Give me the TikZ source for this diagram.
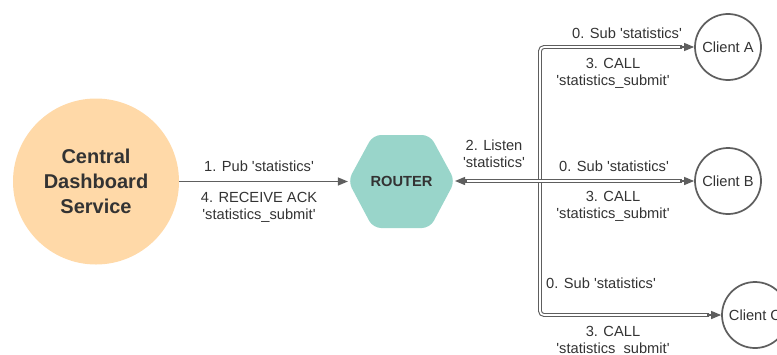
\documentclass[tikz,border=0pt]{standalone}
\usepackage{fontspec}
\setmainfont{Liberation Sans}
\usetikzlibrary{arrows.meta,calc}
\definecolor{orangefill}{HTML}{FFD9A8}
\definecolor{tealfill}{HTML}{99D5CA}
\definecolor{linegray}{HTML}{5E5E5E}
\definecolor{textgray}{HTML}{333333}
\newcommand{\sq}{\textquotesingle}
\begin{document}
\begin{tikzpicture}[x=0.75pt,y=-0.75pt,
  lbl/.style={font=\fontsize{11pt}{13pt}\selectfont, text=textgray, align=center, inner sep=0pt},
  client/.style={circle, draw=linegray, line width=1.3pt, minimum size=49.5pt, inner sep=0pt, font=\fontsize{11pt}{13pt}\selectfont, text=textgray},
  dbl/.style={draw=linegray, line width=0.8pt, double=white, double distance=1.3pt, rounded corners=3pt},
  tip/.style={draw=linegray, line width=0.9pt, -{Triangle[length=7.5pt,width=6pt]}, shorten <=0pt}
]
\useasboundingbox (0,0) rectangle (777,354);
\clip (0,0) rectangle (777,354);

% Central node
\node[circle, fill=orangefill, minimum size=124.5pt, inner sep=0pt, align=center,
      font=\fontsize{15pt}{18.5pt}\selectfont\bfseries, text=textgray] (central) at (96,181.5) {Central\\Dashboard\\Service};

% Router hexagon
\fill[tealfill, rounded corners=6pt] (348,181) -- (373,135) -- (430,135) -- (455,181) -- (430,228) -- (373,228) -- cycle;
\node[font=\fontsize{11pt}{13pt}\selectfont\bfseries, text=textgray, minimum width=80pt, minimum height=69pt, inner sep=0pt] (router) at (401.5,181.5) {ROUTER};

% Clients
\node[client] (ca) at (728,47) {Client A};
\node[client] (cb) at (728,181) {Client B};
\node[client] (cc) at (755,315) {Client C};

% junction coordinates
\coordinate (jm) at (540,181);
\coordinate (jt) at (540,47);
\coordinate (jb) at (540,315);
\coordinate (ra) at (455,181);

% central -> router
\draw[tip] (central.east) -- (router.west);

% double connectors
\draw[dbl] ($(ca.west)+(-12,0)$) -- (jt) -- (jb) -- ($(cc.west)+(-12,0)$);
\draw[dbl] ($(cb.west)+(-12,0)$) -- (jm) -- ($(ra)+(10,0)$);

% arrowheads
\draw[tip] ($(ca.west)+(-14,0)$) -- (ca.west);
\draw[tip] ($(cb.west)+(-14,0)$) -- (cb.west);
\draw[tip] ($(cc.west)+(-14,0)$) -- (cc.west);
\draw[tip] ($(ra)+(12,0)$) -- (ra);

% labels
\node[lbl] at (259,166) {1. Pub \sq statistics\sq};
\node[lbl] at (259,207) {4. RECEIVE ACK\\\sq statistics\_submit\sq};
\node[lbl] at (494,154) {2. Listen\\\sq statistics\sq};
\node[lbl] at (627,33) {0. Sub \sq statistics\sq};
\node[lbl] at (613,73.5) {3. CALL\\\sq statistics\_submit\sq};
\node[lbl] at (614,166) {0. Sub \sq statistics\sq};
\node[lbl] at (613,206.5) {3. CALL\\\sq statistics\_submit\sq};
\node[lbl] at (601,283) {0. Sub \sq statistics\sq};
\node[lbl] at (613,341.5) {3. CALL\\\sq statistics\_submit\sq};
\end{tikzpicture}
\end{document}
